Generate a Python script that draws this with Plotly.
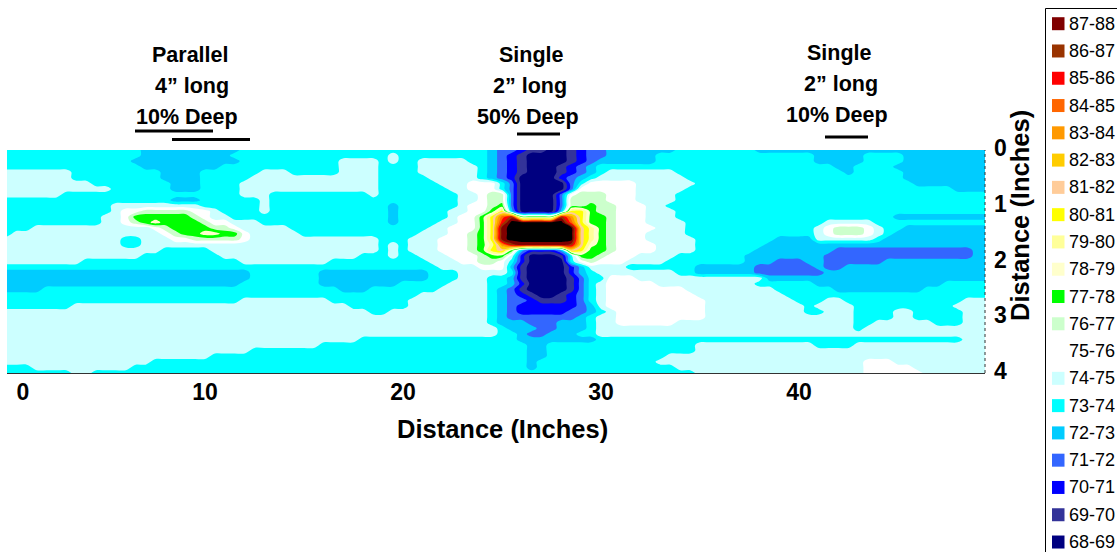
import re
import plotly.graph_objects as go

BAND_LABELS = ["68-69","69-70","70-71","71-72","72-73","73-74","74-75","75-76","76-77","77-78",
               "78-79","79-80","80-81","81-82","82-83","83-84","84-85","85-86","86-87","87-88"]
BAND_COLORS = ["#000080","#333399","#0000FF","#3366FF","#00CCFF","#00FFFF","#CCFFFF","#FFFFFF","#CCFFCC","#00FF00",
               "#FFFFCC","#FFFF99","#FFFF00","#FFCC99","#FFCC00","#FF9900","#FF6600","#FF0000","#993300","#800000"]
OVER_COLOR = "#000000"
BAND_CODES = "abcdefghijklmnopqrstu"

# One row per 0.1 inch of depth; each token = band letter + column (0.5 inch each) where the run stops.
ROWS = [
"f14 e24 f49 e50 d52 c53 b55 a57 b58 c59 d61 e68 f76 e100",
"f14 e23 f39 g40 f49 e50 d51 c52 b53 a57 b58 c59 d61 e66 f82 e87 f91 e100",
"f13 e24 f34 g38 f39 g40 f42 g47 f49 e50 d51 c52 b53 a57 b58 c59 d60 e66 f82 e87 f91 e100",
"f14 e22 f34 g38 f42 g48 f49 e50 d51 c52 b53 a56 b57 c58 d59 e60 f84 e86 f90 e100",
"g7 f16 e20 f26 g29 f34 g38 f42 g48 f49 e50 d51 c52 b53 a56 b57 c58 d59 e60 f61 g68 f85 e86 f91 e100",
"g7 f16 e20 f25 g38 f43 g48 f49 e50 d51 c52 a56 c57 d58 e59 f60 g69 f91 e100",
"g9 f17 e20 f24 g38 f44 g47 h50 f51 d52 a57 d58 f59 h64 g70 f92 e100",
"g11 f17 e20 f24 g38 f45 g47 h50 f51 d52 a57 d58 h64 g69 f96 e100",
"g6 f24 g27 f37 g38 f46 g48 h49 i51 d52 a56 d57 h58 i61 h64 g68 f100",
"f17 e20 f26 g27 f46 g48 h49 i51 d52 a56 d57 i61 h64 g68 f100",
"f11 g20 f26 g27 f39 e40 f46 g47 h49 i50 j51 d52 a56 d57 i59 j60 i62 h65 g67 f100",
"f11 g12 h14 i19 h21 g22 f26 g27 f39 e40 f45 g47 h49 j50 m51 e52 a56 e57 m59 j60 i62 h65 g68 f100",
"f10 g12 h13 j19 i20 h21 g23 f39 e40 f45 g46 h48 j49 m50 q51 s52 j56 s57 p58 m59 j61 i62 h65 g68 f90 e100",
"f10 g12 h13 i14 j15 k16 j20 i21 h23 g26 f39 e40 f44 g46 h48 j49 m50 r51 u57 q58 m59 j61 i62 h65 g69 f83 g88 f100",
"f3 g15 h16 i17 j21 i23 h24 g29 f43 g45 h48 j49 m50 t51 u58 n59 l60 j61 i62 h66 g69 f82 g83 h84 i87 h88 g89 f91 e100",
"f1 g16 h17 i18 j20 k22 j24 h25 g30 f42 g45 h47 i48 j49 m50 t51 u58 n59 l60 j61 i62 h65 g69 f82 g83 h84 i87 h88 g89 f90 e100",
"g12 f14 g17 h19 i24 h25 g38 f41 g44 h47 i48 j49 m50 t51 u58 n59 l60 j61 i62 h65 g70 f78 e82 g88 f89 e100",
"g12 f14 g38 f39 g40 f41 g44 h47 i48 j49 l50 p51 s52 t57 s58 n59 k60 j61 i62 h66 g70 f77 e100",
"g16 f21 g38 f39 g40 f41 g44 h47 i48 j49 m50 n51 j52 e53 c56 e57 n58 m59 j61 i62 h66 g70 f76 e84 d98 e100",
"g14 f22 g36 f39 g40 f42 g45 h48 i49 j51 g52 c53 a56 b57 f58 j60 i61 h64 g68 f75 e83 d98 e100",
"g8 f24 g33 f43 g46 h48 i50 h51 f52 c53 a57 f58 h59 i60 h63 g67 f75 e78 d81 e83 d89 e100",
"f44 g48 h51 e52 b53 a57 c58 e59 g63 f70 e76 d82 e83 d85 e100",
"e25 f32 e43 f46 g51 f52 b53 a57 c58 e59 f60 g68 f70 e76 d83 e100",
"e25 f32 e43 f46 g49 f51 e52 b53 a57 b58 d59 f61 h64 g77 e100",
"e24 f32 e40 f45 g49 f51 e52 c53 a57 b58 d59 f60 g61 h66 g76 f82 e95 f100",
"e4 f34 e37 f44 g49 f50 e51 d52 b53 a57 b58 d59 f60 g61 h69 g78 f84 e93 f100",
"f42 g49 f50 e51 d52 c53 b54 a56 b57 c58 d59 f60 g61 h70 g79 f100",
"f24 g33 f41 g49 f50 e51 d53 c54 b57 c58 d59 f60 g61 h71 g80 f83 g85 f97 g100",
"f7 g35 f41 g49 f50 e51 d52 c58 d59 e60 g61 h71 g81 f82 g86 f96 g100",
"g37 f39 g49 f50 e51 d52 c57 d59 e60 f61 g62 h71 g81 f83 g86 f90 g92 f97 g100",
"g49 f50 e51 d58 e59 f60 g62 h71 g86 f90 g92 f97 g100",
"g49 f50 e53 d56 e59 f60 g62 h68 g86 f88 g94 f97 g100",
"g50 f51 e54 d56 e59 f60 g86 f87 g100",
"g50 f52 e53 d55 e58 f60 g100",
"g36 f52 e60 f97 g100",
"g32 f53 e55 f70 g82 f86 g100",
"g25 f53 e55 f70 g100",
"g21 f53 e55 f67 g100",
"g15 f53 e54 f66 g87 h90 g100",
"f3 g13 f53 e54 f68 g87 h92 g100",
"f7 g9 f70 g87 h93 g100",
]

DEPTHS = [i / 10 for i in range(41)]
DISTANCES = [i / 2 for i in range(100)]
X_TICK_VALUES = [0.8, 10, 20, 30, 40]
X_TICK_TEXT = ["0", "10", "20", "30", "40"]
Y_TICK_VALUES = [0, 1, 2, 3, 4]
TITLE_LINES = [("Parallel", 190, 55), ("4” long", 192, 86), ("10% Deep", 187, 117),
               ("Single", 531, 55), ("2” long", 530, 86), ("50% Deep", 528, 117),
               ("Single", 839, 53), ("2” long", 841, 84), ("10% Deep", 837, 115)]
FLAWS = [(135, 213, 131), (172, 250, 139.5), (517, 560, 134), (825, 868, 137)]
AXIS_TITLE = "Distance (Inches)"


def expand(row):
    cells, start = [], 0
    for code, stop in re.findall(r"([a-u])(\d+)", row):
        cells += [BAND_CODES.index(code) + 68.5] * (int(stop) - start)
        start = int(stop)
    return cells


Z = [expand(r) for r in ROWS]

W, H = 1117, 552
L, R, T, B = 7, 985, 150, 373
FONT = "Liberation Sans"


def px(x):
    return (x - L) / (R - L)


def py(y):
    return (B - y) / (B - T)


all_colors = BAND_COLORS + [OVER_COLOR]
n = len(all_colors)
scale = []
for i, c in enumerate(all_colors):
    scale += [[i / n, c], [(i + 1) / n, c]]

fig = go.Figure(go.Contour(
    x=DISTANCES, y=DEPTHS, z=Z,
    zmin=68, zmax=89, colorscale=scale, showscale=False,
    autocontour=False,
    contours=dict(start=69, end=88, size=1, coloring="fill", showlines=False),
    line=dict(width=0), hoverinfo="skip",
))

shapes, annotations = [], []
for x0, x1, y in FLAWS:
    shapes.append(dict(type="line", xref="paper", yref="paper", x0=px(x0), x1=px(x1), y0=py(y), y1=py(y),
                       line=dict(color="black", width=3)))
for text, x, y in TITLE_LINES:
    annotations.append(dict(text=text, xref="paper", yref="paper", x=px(x), y=py(y), xanchor="center", yanchor="middle",
                            showarrow=False, font=dict(family=FONT, size=21.5, color="black", weight="bold")))
# right axis dotted rule
shapes.append(dict(type="line", xref="paper", yref="paper", x0=1, x1=1, y0=0, y1=1,
                   line=dict(color="#333333", width=1, dash="dot")))
# legend box
shapes.append(dict(type="rect", xref="paper", yref="paper", x0=px(1045.5), x1=px(1130), y0=py(8.5), y1=py(570),
                   line=dict(color="black", width=1), fillcolor="white", layer="below"))
for i, (lab, col) in enumerate(zip(BAND_LABELS[::-1], BAND_COLORS[::-1])):
    yc = 23.7 + i * 27.28
    shapes.append(dict(type="rect", xref="paper", yref="paper", x0=px(1052), x1=px(1064.5), y0=py(yc - 6.5), y1=py(yc + 6.5),
                       line=dict(width=0), fillcolor=col))
    annotations.append(dict(text=lab, xref="paper", yref="paper", x=px(1066.5), y=py(yc), xanchor="left", yanchor="middle",
                            showarrow=False, font=dict(family=FONT, size=18, color="black")))
annotations.append(dict(text=AXIS_TITLE, xref="paper", yref="paper", x=px(1020), y=py(216), textangle=-90,
                        xanchor="center", yanchor="middle", showarrow=False,
                        font=dict(family=FONT, size=25.5, color="black", weight="bold")))
annotations.append(dict(text=AXIS_TITLE, xref="paper", yref="paper", x=px(502.5), y=py(429),
                        xanchor="center", yanchor="middle", showarrow=False,
                        font=dict(family=FONT, size=25.5, color="black", weight="bold")))

fig.update_layout(
    width=W, height=H, margin=dict(l=L, r=W - R, t=T, b=H - B, pad=0),
    paper_bgcolor="white", plot_bgcolor="white", showlegend=False,
    font=dict(family=FONT, color="black"), shapes=shapes, annotations=annotations,
    xaxis=dict(range=[0, 49.39], tickmode="array", tickvals=X_TICK_VALUES, ticktext=X_TICK_TEXT,
               tickfont=dict(family=FONT, size=23, weight="bold"), ticks="", ticklabelstandoff=-2,
               showgrid=False, zeroline=False, showline=True, linecolor="#333333", linewidth=1),
    yaxis=dict(range=[4, 0], side="right", tickmode="array", tickvals=Y_TICK_VALUES,
               tickfont=dict(family=FONT, size=23, weight="bold"), ticks="", ticklabelstandoff=8, ticklabelshift=2,
               showgrid=False, zeroline=False, showline=False),
)

fig.write_html("out.html", config=dict(displayModeBar=False),
               post_script="document.body.style.margin='0';document.documentElement.style.overflow='hidden';")
